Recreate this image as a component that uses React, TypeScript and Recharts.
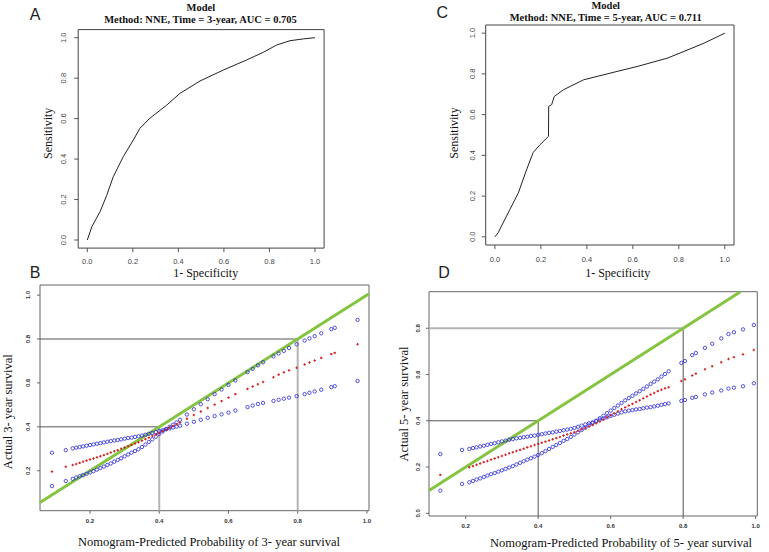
import React from 'react';
import {
  LineChart,
  Line,
  ScatterChart,
  Scatter,
  XAxis,
  YAxis,
  ReferenceArea,
  ReferenceLine,
} from 'recharts';

// ---------- ROC data (A: 3-year, C: 5-year) ----------
const rocAFpr = [0, 0.02, 0.056, 0.085, 0.114, 0.158, 0.202, 0.231, 0.275, 0.349, 0.407, 0.495, 0.597, 0.7, 0.773, 0.832, 0.89, 0.949, 1];
const rocATpr = [0, 0.066, 0.14, 0.22, 0.313, 0.412, 0.494, 0.552, 0.602, 0.667, 0.725, 0.786, 0.84, 0.89, 0.928, 0.964, 0.985, 0.994, 1];

const rocCFpr = [0, 0.014, 0.065, 0.102, 0.138, 0.167, 0.196, 0.233, 0.234, 0.247, 0.258, 0.298, 0.386, 0.531, 0.618, 0.749, 0.822, 0.91, 1];
const rocCTpr = [0, 0.02, 0.134, 0.216, 0.33, 0.415, 0.452, 0.493, 0.64, 0.649, 0.689, 0.722, 0.771, 0.812, 0.836, 0.877, 0.91, 0.951, 1];

const rocTicks = [0, 0.2, 0.4, 0.6, 0.8, 1.0];

// ---------- Calibration 3-year (B) ----------
const cal3Pred = [
  0.09, 0.13, 0.15, 0.16, 0.17, 0.18, 0.19, 0.2, 0.21, 0.22, 0.23, 0.24, 0.25, 0.26, 0.27, 0.28, 0.29, 0.3,
  0.31, 0.32, 0.33, 0.34, 0.35, 0.36, 0.37, 0.38, 0.39, 0.4, 0.41, 0.42, 0.43, 0.44, 0.45, 0.46, 0.48, 0.5,
  0.52, 0.54, 0.56, 0.58, 0.6, 0.62, 0.655, 0.67, 0.685, 0.7, 0.73, 0.745, 0.76, 0.775, 0.797, 0.82, 0.834,
  0.849, 0.868, 0.897, 0.907, 0.973,
];
const cal3Actual = [
  0.196, 0.218, 0.226, 0.231, 0.236, 0.241, 0.246, 0.251, 0.256, 0.261, 0.266, 0.271, 0.277, 0.283, 0.289, 0.294, 0.3, 0.306,
  0.312, 0.318, 0.324, 0.33, 0.337, 0.344, 0.351, 0.358, 0.365, 0.372, 0.38, 0.388, 0.396, 0.404, 0.412, 0.42, 0.437, 0.454,
  0.47, 0.486, 0.501, 0.517, 0.533, 0.549, 0.573, 0.584, 0.594, 0.604, 0.626, 0.638, 0.648, 0.657, 0.669, 0.684, 0.693,
  0.702, 0.714, 0.731, 0.737, 0.776,
];
const cal3BandSteep = [
  0.13, 0.153, 0.163, 0.169, 0.175, 0.18, 0.186, 0.192, 0.198, 0.205, 0.212, 0.219, 0.226, 0.233, 0.241, 0.249, 0.257, 0.266,
  0.274, 0.282, 0.29, 0.298, 0.308, 0.319, 0.331, 0.343, 0.355, 0.368, 0.379, 0.39, 0.4, 0.41, 0.42, 0.432, 0.456, 0.48,
  0.503, 0.526, 0.549, 0.57, 0.591, 0.611, 0.649, 0.664, 0.68, 0.694, 0.721, 0.734, 0.746, 0.759, 0.776, 0.793, 0.803,
  0.813, 0.826, 0.845, 0.851, 0.887,
];
const cal3BandFlat = [
  0.282, 0.294, 0.302, 0.305, 0.308, 0.311, 0.314, 0.317, 0.32, 0.323, 0.326, 0.329, 0.332, 0.335, 0.338, 0.34, 0.343, 0.346,
  0.349, 0.351, 0.354, 0.357, 0.36, 0.364, 0.368, 0.372, 0.376, 0.381, 0.385, 0.389, 0.393, 0.397, 0.401, 0.405, 0.414, 0.423,
  0.432, 0.441, 0.449, 0.457, 0.465, 0.474, 0.49, 0.497, 0.504, 0.509, 0.518, 0.523, 0.528, 0.533, 0.54, 0.549, 0.555,
  0.561, 0.569, 0.581, 0.585, 0.609,
];
const cal3Ticks = [0.2, 0.4, 0.6, 0.8, 1.0];

// ---------- Calibration 5-year (D) ----------
const cal5Pred = [
  0.13, 0.19,
  0.21, 0.22, 0.23, 0.24, 0.25, 0.26, 0.27, 0.28, 0.29, 0.3, 0.31, 0.32, 0.33,
  0.34, 0.35, 0.36, 0.37, 0.38, 0.39, 0.4,
  0.41, 0.42, 0.43, 0.44, 0.45, 0.46, 0.47, 0.48, 0.49,
  0.5, 0.51, 0.52, 0.53, 0.54, 0.55,
  0.56, 0.57, 0.58, 0.59, 0.6, 0.61, 0.62, 0.63,
  0.64, 0.65, 0.66, 0.67, 0.68, 0.69, 0.7, 0.71, 0.72, 0.73, 0.74, 0.75, 0.76,
  0.795, 0.805, 0.825, 0.835, 0.86, 0.88, 0.905, 0.925, 0.94, 0.965, 0.995,
];
const cal5Actual = [
  0.166, null,
  0.199, 0.204, 0.21, 0.215, 0.221, 0.226, 0.232, 0.237, 0.242, 0.248, 0.253, 0.259, 0.264,
  0.269, 0.274, 0.279, 0.285, 0.29, 0.295, 0.3,
  0.305, 0.31, 0.315, 0.32, 0.325, 0.33, 0.336, 0.341, 0.346,
  0.351, 0.357, 0.363, 0.369, 0.375, 0.381,
  0.389, 0.397, 0.406, 0.415, 0.424, 0.432, 0.441, 0.45,
  0.458, 0.466, 0.473, 0.481, 0.489, 0.497, 0.505, 0.513, 0.52, 0.528, 0.534, 0.54, 0.545,
  0.572, 0.579, 0.596, 0.604, 0.623, 0.636, 0.653, 0.667, 0.675, 0.687, 0.706,
];
const cal5BandSteep = [
  0.098, 0.127,
  0.134, 0.14, 0.146, 0.151, 0.157, 0.163, 0.169, 0.174, 0.18, 0.186, 0.192, 0.198, 0.204,
  0.211, 0.218, 0.225, 0.232, 0.238, 0.245, 0.252,
  0.26, 0.269, 0.278, 0.287, 0.295, 0.304, 0.313, 0.321, 0.33,
  0.34, 0.35, 0.36, 0.37, 0.38, 0.39,
  0.4, 0.411, 0.422, 0.433, 0.444, 0.455, 0.466, 0.477,
  0.488, 0.498, 0.508, 0.518, 0.528, 0.538, 0.548, 0.559, 0.569, 0.579, 0.591, 0.602, 0.614,
  0.65, 0.658, 0.684, 0.693, 0.715, 0.733, 0.756, 0.775, 0.783, 0.795, 0.814,
];
const cal5BandFlat = [
  0.256, 0.274,
  0.278, 0.282, 0.285, 0.289, 0.292, 0.296, 0.3, 0.303, 0.307, 0.311, 0.314, 0.318, 0.321,
  0.324, 0.326, 0.329, 0.331, 0.334, 0.336, 0.339,
  0.342, 0.345, 0.348, 0.35, 0.353, 0.356, 0.359, 0.362, 0.365,
  0.369, 0.374, 0.379, 0.384, 0.389, 0.393,
  0.398, 0.404, 0.409, 0.415, 0.421, 0.426, 0.431, 0.436,
  0.441, 0.444, 0.446, 0.449, 0.451, 0.454, 0.457, 0.459, 0.462, 0.465, 0.469, 0.472, 0.475,
  0.486, 0.49, 0.499, 0.503, 0.514, 0.522, 0.531, 0.539, 0.543, 0.549, 0.562,
];
const cal5XTicks = [0.2, 0.4, 0.6, 0.8, 1.0];
const cal5YTicks = [0.0, 0.2, 0.4, 0.6, 0.8];

// ideal line and guide levels
const guideLevels = [0.4, 0.8];

// ---------- helpers ----------
const pairs = (xs: number[], ys: (number | null)[]) =>
  xs.map((x, i) => ({ x, y: ys[i] })).filter((d) => d.y !== null && d.y !== undefined) as { x: number; y: number }[];

const rocA = pairs(rocAFpr, rocATpr);
const rocC = pairs(rocCFpr, rocCTpr);
const b3Mid = pairs(cal3Pred, cal3Actual);
const b3Steep = pairs(cal3Pred, cal3BandSteep);
const b3Flat = pairs(cal3Pred, cal3BandFlat);
const d5Mid = pairs(cal5Pred, cal5Actual);
const d5Steep = pairs(cal5Pred, cal5BandSteep);
const d5Flat = pairs(cal5Pred, cal5BandFlat);

const SANS = "'Liberation Sans', Arial, sans-serif";
const SERIF = "'Liberation Serif', 'Times New Roman', serif";

const makeXTick = (dy: number, fs: number, weight: string, color: string) => (props: any) => {
  const { x, y, payload } = props;
  return (
    <text x={x} y={y + dy} textAnchor="middle" dominantBaseline="central" fontSize={fs} fontWeight={weight} fill={color} fontFamily={SANS}>
      {Number(payload.value).toFixed(1)}
    </text>
  );
};
const makeYTick = (dx: number, fs: number, weight: string, color: string) => (props: any) => {
  const { x, y, payload } = props;
  const cx = x + dx;
  return (
    <text x={cx} y={y} transform={`rotate(-90 ${cx} ${y})`} textAnchor="middle" dominantBaseline="central" fontSize={fs} fontWeight={weight} fill={color} fontFamily={SANS}>
      {Number(payload.value).toFixed(1)}
    </text>
  );
};

const BlueCircle = (p: any) => (
  <circle cx={p.cx} cy={p.cy} r={1.7} fill="none" stroke="#2a2ad8" strokeWidth={0.8} />
);
const RedPlus = (p: any) => (
  <path d={`M${p.cx - 1.2},${p.cy}h2.4M${p.cx},${p.cy - 1.2}v2.4`} stroke="#d42020" strokeWidth={1.1} />
);

const GREEN = '#84c441';
const GUIDE_LIGHT = '#b4b4b4';
const GUIDE_DARK = '#555555';

function RocPanel(props: {
  left: number; top: number; width: number; height: number;
  margin: { top: number; right: number; bottom: number; left: number };
  data: { x: number; y: number }[];
  dom: [number, number];
  xTickDy: number; yTickDx: number;
}) {
  const { left, top, width, height, margin, data, dom, xTickDy, yTickDx } = props;
  return (
    <div style={{ position: 'absolute', left, top }}>
      <LineChart width={width} height={height} margin={margin} data={data}>
        <XAxis type="number" dataKey="x" domain={dom} ticks={rocTicks} interval={0} allowDataOverflow
          axisLine={false} tickLine={{ stroke: '#555' }} tickSize={4} tickMargin={2} height={30}
          tick={makeXTick(xTickDy, 7.5, 'normal', '#444')} />
        <YAxis type="number" domain={dom} ticks={rocTicks} interval={0} allowDataOverflow
          axisLine={false} tickLine={{ stroke: '#555' }} tickSize={4} tickMargin={2} width={30}
          tick={makeYTick(yTickDx, 7.5, 'normal', '#444')} />
        <ReferenceArea x1={dom[0]} x2={dom[1]} y1={dom[0]} y2={dom[1]} fill="none" fillOpacity={0} stroke="#444" strokeWidth={1} ifOverflow="visible" />
        <Line dataKey="y" type="linear" stroke="#222" strokeWidth={1} dot={false} isAnimationActive={false} />
      </LineChart>
    </div>
  );
}

function CalPanel(props: {
  left: number; top: number; width: number; height: number;
  margin: { top: number; right: number; bottom: number; left: number };
  xDom: [number, number]; yDom: [number, number];
  xTicks: number[]; yTicks: number[];
  mid: { x: number; y: number }[]; steep: { x: number; y: number }[]; flat: { x: number; y: number }[];
  xTickDy: number; yTickDx: number;
  idealEnd: number;
  vStroke: string; vWidth: number; hStroke: string[]; hWidth: number[];
}) {
  const p = props;
  return (
    <div style={{ position: 'absolute', left: p.left, top: p.top }}>
      <ScatterChart width={p.width} height={p.height} margin={p.margin}>
        <XAxis type="number" dataKey="x" domain={p.xDom} ticks={p.xTicks} interval={0} allowDataOverflow
          axisLine={false} tickLine={{ stroke: '#666' }} tickSize={3} tickMargin={2} height={30}
          tick={makeXTick(p.xTickDy, 6, 'bold', '#333')} />
        <YAxis type="number" dataKey="y" domain={p.yDom} ticks={p.yTicks} interval={0} allowDataOverflow
          axisLine={false} tickLine={{ stroke: '#666' }} tickSize={3} tickMargin={2} width={30}
          tick={makeYTick(p.yTickDx, 6, 'bold', '#333')} />
        <ReferenceArea x1={p.xDom[0]} x2={p.xDom[1]} y1={p.yDom[0]} y2={p.yDom[1]} fill="none" fillOpacity={0} stroke="#666" strokeWidth={1} ifOverflow="visible" />
        {guideLevels.map((g, i) => (
          <ReferenceLine key={'v' + g} segment={[{ x: g, y: p.yDom[0] }, { x: g, y: g }]} stroke={p.vStroke} strokeWidth={p.vWidth} ifOverflow="visible" />
        ))}
        {guideLevels.map((g, i) => (
          <ReferenceLine key={'h' + g} segment={[{ x: p.xDom[0], y: g }, { x: g, y: g }]} stroke={p.hStroke[i]} strokeWidth={p.hWidth[i]} ifOverflow="visible" />
        ))}
        <Scatter data={p.flat} dataKey="y" shape={BlueCircle} isAnimationActive={false} />
        <Scatter data={p.steep} dataKey="y" shape={BlueCircle} isAnimationActive={false} />
        <Scatter data={p.mid} dataKey="y" shape={RedPlus} isAnimationActive={false} />
        <ReferenceLine segment={[{ x: p.xDom[0], y: p.xDom[0] }, { x: p.idealEnd, y: p.idealEnd }]} stroke={GREEN} strokeWidth={3} ifOverflow="visible" />
      </ScatterChart>
    </div>
  );
}

export default function App() {
  return (
    <div style={{ position: 'absolute', left: 0, top: 0, width: 769, height: 552, background: '#fff', overflow: 'hidden' }}>
      <RocPanel left={0} top={0} width={384} height={280}
        margin={{ top: 29.6, right: 59.9, bottom: 1.9, left: 48.2 }}
        data={rocA} dom={[-0.04, 1.04]} xTickDy={7.6} yTickDx={-8.9} />
      <RocPanel left={384} top={0} width={385} height={280}
        margin={{ top: 25, right: 35, bottom: 5, left: 71.7 }}
        data={rocC} dom={[-0.04, 1.04]} xTickDy={8.3} yTickDx={-7.4} />
      <CalPanel left={0} top={270} width={384} height={282}
        margin={{ top: 15, right: 15, bottom: 11.3, left: 10 }}
        xDom={[0.0555, 1.006]} yDom={[0.018, 1.046]} xTicks={cal3Ticks} yTicks={cal3Ticks}
        mid={b3Mid} steep={b3Steep} flat={b3Flat} xTickDy={5.6} yTickDx={-7.3}
        idealEnd={1.006}
        vStroke={GUIDE_LIGHT} vWidth={2} hStroke={[GUIDE_DARK, GUIDE_DARK]} hWidth={[1, 1]} />
      <CalPanel left={384} top={270} width={385} height={282}
        margin={{ top: 21.7, right: 11.7, bottom: 6, left: 15 }}
        xDom={[0.0988, 1.0045]} yDom={[-0.0117, 0.958]} xTicks={cal5XTicks} yTicks={cal5YTicks}
        mid={d5Mid} steep={d5Steep} flat={d5Flat} xTickDy={4.7} yTickDx={-5.7}
        idealEnd={0.958}
        vStroke={GUIDE_DARK} vWidth={1} hStroke={[GUIDE_DARK, GUIDE_LIGHT]} hWidth={[1, 2]} />

      <svg width={769} height={552} style={{ position: 'absolute', left: 0, top: 0, pointerEvents: 'none' }}>
        <g fontFamily={SANS} fontSize={16} fill="#222" textAnchor="middle" dominantBaseline="central">
          <text x={35} y={14}>A</text>
          <text x={442.3} y={12.5}>C</text>
          <text x={35} y={272.5}>B</text>
          <text x={444} y={272.5}>D</text>
        </g>
        <g fontFamily={SERIF} fontWeight="bold" fontSize={10.5} fill="#111" textAnchor="middle" dominantBaseline="central">
          <text x={200.8} y={7}>Model</text>
          <text x={200.5} y={19.2}>Method: NNE, Time = 3-year, AUC = 0.705</text>
          <text x={605.7} y={5}>Model</text>
          <text x={605.7} y={17}>Method: NNE, Time = 5-year, AUC = 0.711</text>
        </g>
        <g fontFamily={SERIF} fontSize={12} fill="#111" textAnchor="middle" dominantBaseline="central">
          <text x={205.7} y={272.5}>1- Specificity</text>
          <text x={617.7} y={272.5}>1- Specificity</text>
          <text x={47.7} y={133.3} transform="rotate(-90 47.7 133.3)">Sensitivity</text>
          <text x={453.5} y={133} transform="rotate(-90 453.5 133)">Sensitivity</text>
        </g>
        <g fontFamily={SERIF} fontSize={12.5} fill="#111" textAnchor="middle" dominantBaseline="central">
          <text x={209} y={541.5}>Nomogram-Predicted Probability of 3- year survival</text>
          <text x={621} y={543}>Nomogram-Predicted Probability of 5- year survival</text>
          <text x={8.5} y={411.7} transform="rotate(-90 8.5 411.7)">Actual 3- year survival</text>
          <text x={404} y={404} transform="rotate(-90 404 404)">Actual 5- year survival</text>
        </g>
      </svg>
    </div>
  );
}
